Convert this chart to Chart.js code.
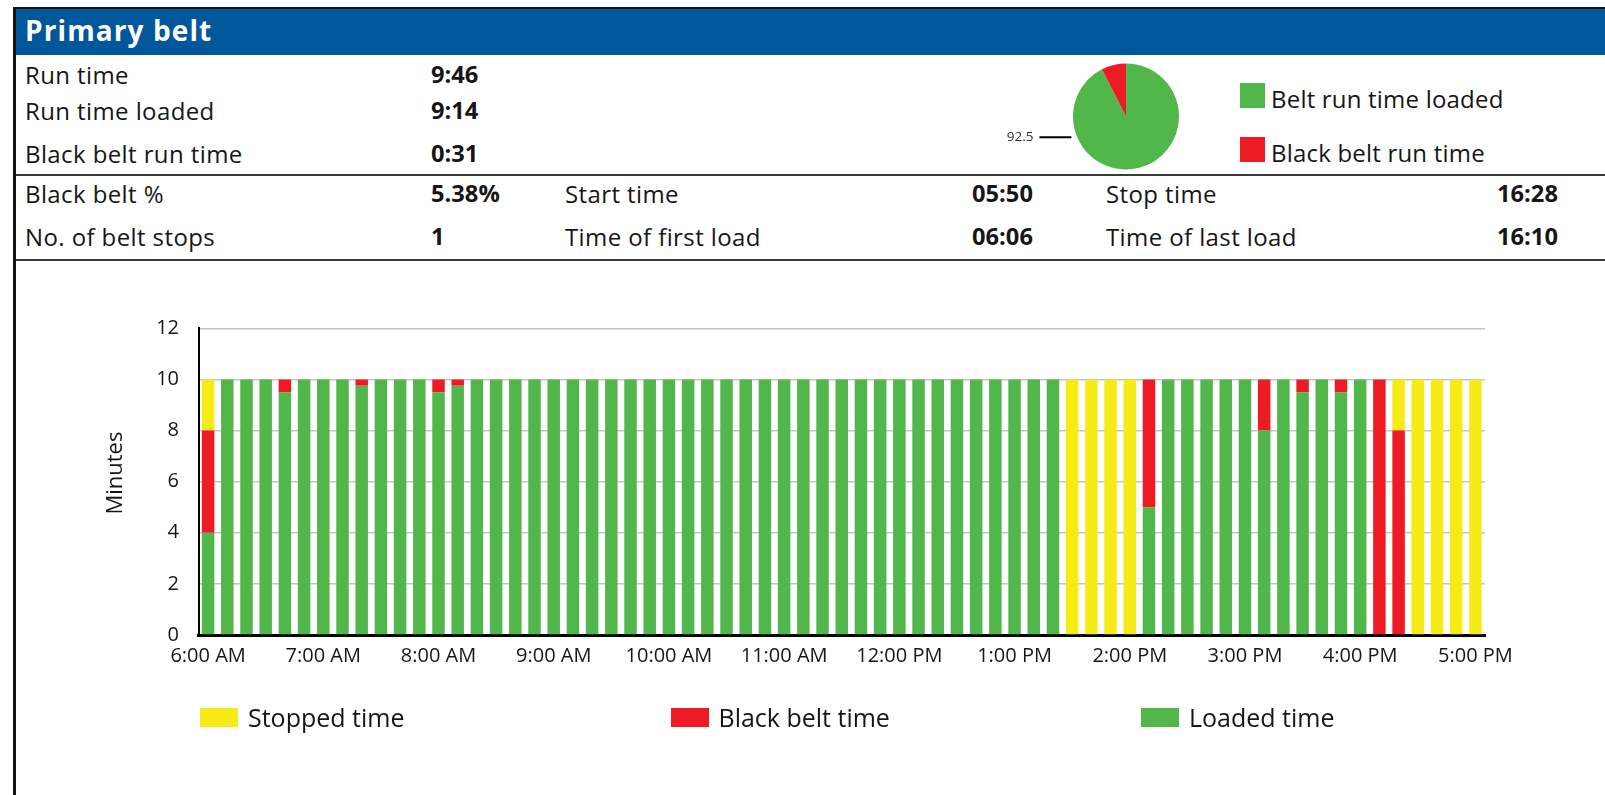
<!DOCTYPE html>
<html>
<head>
<meta charset="utf-8">
<script src="https://cdn.jsdelivr.net/npm/chart.js@4/dist/chart.umd.min.js"></script>
<style>
  html, body { margin: 0; padding: 0; background: #fff; }
  body { width: 1605px; height: 795px; position: relative; overflow: hidden; font-family: "Open Sans", "Noto Sans", sans-serif; color: #161616; }
  .abs { position: absolute; }
  .t { position: absolute; transform: translateY(-50%); line-height: 1; white-space: nowrap; font-size: 24px; font-weight: 500; letter-spacing: 0.4px; }
  .b { font-weight: 700; font-size: 23.7px; letter-spacing: 0; }
  .sq { position: absolute; }
</style>
</head>
<body>
<canvas id="bars" class="abs" style="left:0;top:262px;" width="1605" height="533"></canvas>
<canvas id="pie" class="abs" style="left:1000px;top:60px;" width="200" height="112"></canvas>

<div class="abs" style="left:13px;top:7px;width:1592px;height:2px;background:#141414;"></div>
<div class="abs" style="left:13px;top:7px;width:3px;height:788px;background:#141414;"></div>
<div class="abs" style="left:16px;top:9px;width:1589px;height:46px;background:#02569A;"></div>
<div class="t" style="left:25px;top:30px;font-size:28px;font-weight:700;letter-spacing:1.1px;color:#fff;">Primary belt</div>

<div class="abs" style="left:16px;top:174px;width:1589px;height:2px;background:#3a3a3a;"></div>
<div class="abs" style="left:16px;top:259px;width:1589px;height:2px;background:#3a3a3a;"></div>

<div class="t" style="left:25px;top:74.5px;">Run time</div>
<div class="t b" style="left:431px;top:74.5px;">9:46</div>
<div class="t" style="left:25px;top:110.5px;">Run time loaded</div>
<div class="t b" style="left:431px;top:110.5px;">9:14</div>
<div class="t" style="left:25px;top:153.5px;">Black belt run time</div>
<div class="t b" style="left:431px;top:153.5px;">0:31</div>

<div class="t" style="left:25px;top:194px;">Black belt %</div>
<div class="t b" style="left:431px;top:194px;">5.38%</div>
<div class="t" style="left:565px;top:194px;">Start time</div>
<div class="t b" style="left:972px;top:194px;">05:50</div>
<div class="t" style="left:1106px;top:194px;">Stop time</div>
<div class="t b" style="left:1497px;top:194px;">16:28</div>

<div class="t" style="left:25px;top:236.5px;">No. of belt stops</div>
<div class="t b" style="left:431px;top:236.5px;">1</div>
<div class="t" style="left:565px;top:236.5px;">Time of first load</div>
<div class="t b" style="left:972px;top:236.5px;">06:06</div>
<div class="t" style="left:1106px;top:236.5px;">Time of last load</div>
<div class="t b" style="left:1497px;top:236.5px;">16:10</div>

<div id="pieLegend"></div>
<div id="barLegend"></div>

<script>
// ---------- data ----------
const timeLabels = [
  '6:00 AM','6:10 AM','6:20 AM','6:30 AM','6:40 AM','6:50 AM',
  '7:00 AM','7:10 AM','7:20 AM','7:30 AM','7:40 AM','7:50 AM',
  '8:00 AM','8:10 AM','8:20 AM','8:30 AM','8:40 AM','8:50 AM',
  '9:00 AM','9:10 AM','9:20 AM','9:30 AM','9:40 AM','9:50 AM',
  '10:00 AM','10:10 AM','10:20 AM','10:30 AM','10:40 AM','10:50 AM',
  '11:00 AM','11:10 AM','11:20 AM','11:30 AM','11:40 AM','11:50 AM',
  '12:00 PM','12:10 PM','12:20 PM','12:30 PM','12:40 PM','12:50 PM',
  '1:00 PM','1:10 PM','1:20 PM','1:30 PM','1:40 PM','1:50 PM',
  '2:00 PM','2:10 PM','2:20 PM','2:30 PM','2:40 PM','2:50 PM',
  '3:00 PM','3:10 PM','3:20 PM','3:30 PM','3:40 PM','3:50 PM',
  '4:00 PM','4:10 PM','4:20 PM','4:30 PM','4:40 PM','4:50 PM',
  '5:00 PM'
];
const loadedTime = [
  4,10,10,10,9.5,10,10,10,9.75,10,
  10,10,9.5,9.75,10,10,10,10,10,10,
  10,10,10,10,10,10,10,10,10,10,
  10,10,10,10,10,10,10,10,10,10,
  10,10,10,10,10,0,0,0,0,5,
  10,10,10,10,10,8,10,9.5,10,9.5,
  10,0,0,0,0,0,0
];
const blackBeltTime = [
  4,0,0,0,0.5,0,0,0,0.25,0,
  0,0,0.5,0.25,0,0,0,0,0,0,
  0,0,0,0,0,0,0,0,0,0,
  0,0,0,0,0,0,0,0,0,0,
  0,0,0,0,0,0,0,0,0,5,
  0,0,0,0,0,2,0,0.5,0,0.5,
  0,10,8,0,0,0,0
];
const stoppedTime = [
  2,0,0,0,0,0,0,0,0,0,
  0,0,0,0,0,0,0,0,0,0,
  0,0,0,0,0,0,0,0,0,0,
  0,0,0,0,0,0,0,0,0,0,
  0,0,0,0,0,10,10,10,10,0,
  0,0,0,0,0,0,0,0,0,0,
  0,0,2,10,10,10,10
];
const yTicks = [0, 2, 4, 6, 8, 10, 12];
const pieLabels = ['Belt run time loaded', 'Black belt run time'];
const pieValues = [92.5, 7.5];
const pieLabelText = '92.5';

// ---------- styles ----------
const GREEN = '#52B74A', RED = '#ED1C24', YELLOW = '#F6EB16';
const FONT = '"Open Sans", "Noto Sans", sans-serif';
const TEXT = '#161616';

// ---------- HTML legends ----------
function legendItem(parent, color, text, x, y, w, h, gap, fs, cy, ls) {
  const sq = document.createElement('div');
  sq.className = 'sq';
  sq.style.cssText = `left:${x}px;top:${y}px;width:${w}px;height:${h}px;background:${color};`;
  parent.appendChild(sq);
  const tx = document.createElement('div');
  tx.className = 't';
  tx.style.cssText = `left:${x + w + gap}px;top:${cy}px;font-size:${fs}px;letter-spacing:${ls}px;`;
  tx.textContent = text;
  parent.appendChild(tx);
}
const pl = document.getElementById('pieLegend');
legendItem(pl, GREEN, pieLabels[0], 1240, 83, 25, 25, 6, 24, 99, 0.2);
legendItem(pl, RED, pieLabels[1], 1240, 137, 25, 25, 6, 24, 153, 0.2);

const bl = document.getElementById('barLegend');
legendItem(bl, YELLOW, 'Stopped time', 200, 708, 38, 19, 10, 25, 717, 0);
legendItem(bl, RED, 'Black belt time', 670.5, 708, 38, 19, 10, 25, 717, 0);
legendItem(bl, GREEN, 'Loaded time', 1141, 708, 38, 19, 10, 25, 717, 0);

// ---------- bar chart ----------
new Chart(document.getElementById('bars'), {
  type: 'bar',
  data: {
    labels: timeLabels,
    datasets: [
      { label: 'Loaded time', data: loadedTime, backgroundColor: GREEN },
      { label: 'Black belt time', data: blackBeltTime, backgroundColor: RED },
      { label: 'Stopped time', data: stoppedTime, backgroundColor: YELLOW }
    ]
  },
  options: {
    responsive: false,
    animation: false,
    events: [],
    layout: { padding: { left: 0, right: 120, top: 66.3, bottom: 120 } },
    datasets: { bar: { barPercentage: 0.65, categoryPercentage: 1, borderWidth: 0 } },
    plugins: { legend: { display: false }, tooltip: { enabled: false } },
    scales: {
      x: {
        stacked: true,
        afterFit: (s) => { s.height = 40; },
        grid: { display: false, drawTicks: false },
        border: { display: true, color: '#000', width: 3 },
        ticks: {
          autoSkip: false, maxRotation: 0, minRotation: 0, padding: 9.5,
          color: TEXT, font: { family: FONT, size: 20, weight: 500 },
          callback: function (v, i) { const l = timeLabels[i]; return l.indexOf(':00 ') >= 0 ? l : ''; }
        }
      },
      y: {
        stacked: true, min: 0, max: 12,
        afterFit: (s) => { s.width = 198.5; },
        afterBuildTicks: (s) => { s.ticks = yTicks.map(v => ({ value: v })); },
        grid: { color: '#c6c6c6', lineWidth: 1.5, drawTicks: false },
        border: { display: true, color: '#000', width: 2 },
        ticks: { padding: 19.5, color: TEXT, font: { family: FONT, size: 20, weight: 500 } },
        title: { display: true, text: '   Minutes', color: TEXT, font: { family: FONT, size: 22, weight: 500 }, padding: { top: 102.5, bottom: 0 } }
      }
    }
  }
});

// ---------- pie chart ----------
const pieLabelPlugin = {
  id: 'pieLabel',
  afterDatasetsDraw(chart) {
    const arc = chart.getDatasetMeta(0).data[0];
    if (!arc) return;
    const { x, y, outerRadius } = arc.getProps(['x', 'y', 'outerRadius'], true);
    const ctx = chart.ctx;
    const ly = y + outerRadius * 0.39;
    const x2 = x - outerRadius * 1.03;
    const x1 = x2 - 32;
    ctx.save();
    ctx.strokeStyle = '#000';
    ctx.lineWidth = 2;
    ctx.beginPath(); ctx.moveTo(x1, ly); ctx.lineTo(x2, ly); ctx.stroke();
    ctx.fillStyle = '#333';
    ctx.font = '13.5px ' + FONT;
    ctx.textAlign = 'right';
    ctx.textBaseline = 'middle';
    ctx.fillText(pieLabelText, x1 - 6, ly);
    ctx.restore();
  }
};
new Chart(document.getElementById('pie'), {
  type: 'pie',
  data: {
    labels: pieLabels,
    datasets: [{ data: pieValues, backgroundColor: [GREEN, RED], borderWidth: 0, hoverOffset: 0, offset: 0 }]
  },
  options: {
    responsive: false,
    animation: false,
    events: [],
    layout: { padding: { left: 73, right: 21, top: 3.5, bottom: 2.5 } },
    plugins: { legend: { display: false }, tooltip: { enabled: false } }
  },
  plugins: [pieLabelPlugin]
});
</script>
</body>
</html>
